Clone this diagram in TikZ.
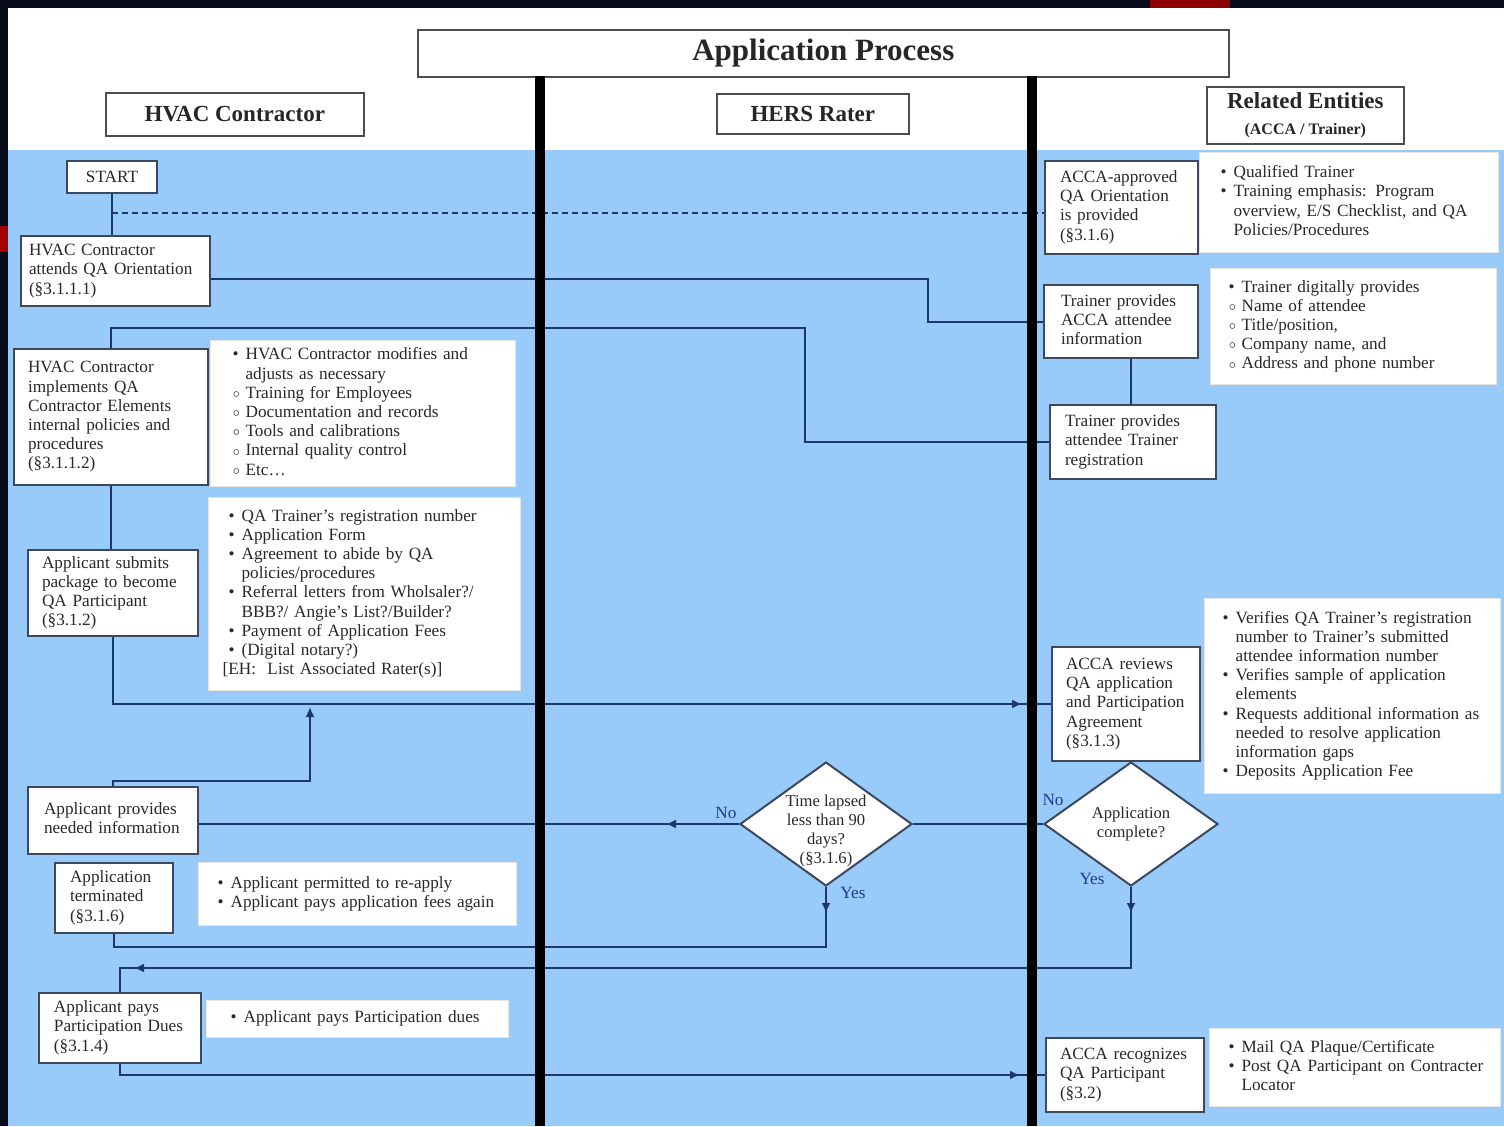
\documentclass[tikz,border=0pt]{standalone}
\usepackage{fontspec}
\setmainfont{Liberation Serif}
\usetikzlibrary{arrows.meta,decorations.markings,shapes.geometric,calc}
\definecolor{bgc}{RGB}{8,12,26}
\definecolor{lane}{RGB}{152,202,250}
\definecolor{lnc}{RGB}{28,56,104}
\definecolor{bdc}{RGB}{60,72,92}
\definecolor{txc}{RGB}{40,40,40}
\definecolor{lbc}{RGB}{30,60,140}
\newcommand\bodyf{\fontsize{8.6}{9.6}\selectfont}
\newcommand\dmdf{\fontsize{8.3}{9.5}\selectfont}
\newcommand\bu{\makebox[6.5pt][l]{\textbullet}}
\newcommand\ci{\makebox[6.5pt][l]{\raisebox{0.1ex}{$\scriptstyle\circ$}}}
\newcommand\ind{\hspace*{6.5pt}}
\newcommand\lns[1]{\begin{tabular}{@{}l@{}}#1\end{tabular}}
\tikzset{
  sz/.code n args={3}{%
    \pgfmathsetlengthmacro\szw{#1*0.5pt-2*(#3)}%
    \pgfmathsetlengthmacro\szh{#2*0.5pt}%
    \edef\sztmp{\noexpand\pgfkeysalso{/tikz/text width=\szw,/tikz/minimum height=\szh,/tikz/inner xsep=#3}}\sztmp},
  pbox/.style={draw=bdc, line width=1pt, fill=white, anchor=north west, align=left,
    inner ysep=0pt, text=txc, font=\bodyf},
  nbox/.style={pbox, draw=black!10, line width=0.6pt},
  hdr/.style={draw=black!70, line width=0.8pt, fill=white, anchor=north west, align=center,
    text=black!85, font=\bfseries\fontsize{11.5}{13}\selectfont},
  dmd/.style={diamond, draw=bdc, line width=1pt, fill=white, inner sep=0pt},
  dtxt/.style={align=center, text=txc, font=\dmdf, inner sep=0pt},
  lbl/.style={text=lbc, font=\bodyf, inner sep=0pt},
  conn/.style={color=lnc, line width=1pt},
  dashline/.style={color=lnc, line width=0.6pt, dash pattern=on 3pt off 2pt},
  amark/.style={postaction={decorate,decoration={markings,
    mark=at position #1 with {\arrow{Latex[length=5pt,width=4.5pt]}}}}},
  amarktwo/.style 2 args={postaction={decorate,decoration={markings,
    mark=at position #1 with {\arrow{Latex[length=5pt,width=4.5pt]}},
    mark=at position #2 with {\arrow{Latex[length=5pt,width=4.5pt]}}}}},
}
\begin{document}
\begin{tikzpicture}[x=0.5pt,y=-0.5pt]
\useasboundingbox (0,0) rectangle (1504,1126);
% background
\fill[bgc] (0,0) rectangle (1504,1126);
\fill[red!65!black] (0,226) rectangle (8,252);
\fill[red!55!black] (1150,0) rectangle (1230,8);
\fill[white] (8,8) rectangle (1504,1126);
\fill[lane] (8,150) rectangle (1504,1126);

% headers
\node[hdr, minimum width=405.5pt, minimum height=23.5pt,
  font=\bfseries\fontsize{15.5}{18}\selectfont] (title) at (417,29) {\raisebox{-1.5pt}{Application Process}};
\node[hdr, minimum width=129pt, minimum height=21.5pt] (hh) at (105,92) {HVAC Contractor};
\node[hdr, minimum width=96pt, minimum height=20pt] (hr) at (716,93) {HERS Rater};
\node[hdr, minimum width=98.5pt, minimum height=28.5pt, inner sep=1pt] (he) at (1206,86)
  {Related Entities\\[0pt]{\fontsize{8}{9}\selectfont (ACCA / Trainer)}};

% left lane
\node[pbox, minimum width=45pt, minimum height=16pt, align=center] (start) at (66,160) {START};
\node[pbox, sz={189}{70}{4pt}] (att) at (20,235)
  {\lns{HVAC Contractor\\attends QA Orientation\\(§3.1.1.1)}};
\node[pbox, sz={194}{136}{7pt}] (imp) at (13,348)
  {\lns{HVAC Contractor\\implements QA\\Contractor Elements\\internal policies and\\procedures\\(§3.1.1.2)}};
\node[nbox, sz={305}{146}{11pt}] (b1) at (210,340)
  {\lns{\bu HVAC Contractor modifies and\\ \ind adjusts as necessary\\ \ci Training for Employees\\
   \ci Documentation and records\\ \ci Tools and calibrations\\ \ci Internal quality control\\ \ci Etc…}};
\node[nbox, sz={312}{193}{7pt}] (b2) at (208,497)
  {\lns{\hspace*{3pt}\bu QA Trainer’s registration number\\
   \hspace*{3pt}\bu Application Form\\
   \hspace*{3pt}\bu Agreement to abide by QA\\
   \hspace*{9.5pt}policies/procedures\\
   \hspace*{3pt}\bu Referral letters from Wholsaler?/\\
   \hspace*{9.5pt}BBB?/ Angie’s List?/Builder?\\
   \hspace*{3pt}\bu Payment of Application Fees\\
   \hspace*{3pt}\bu (Digital notary?)\\
   \relax[EH:\ \ List Associated Rater(s)]}};
\node[pbox, sz={170}{86}{7pt}] (sub) at (27,549)
  {\lns{Applicant submits\\package to become\\QA Participant\\(§3.1.2)}};
\node[pbox, sz={170}{67}{8pt}] (prov) at (27,786)
  {\lns{Applicant provides\\needed information}};
\node[pbox, sz={118}{70}{7.5pt}] (term) at (54,862)
  {\lns{Application\\terminated\\(§3.1.6)}};
\node[nbox, sz={318}{63}{9.5pt}] (b3) at (198,862)
  {\lns{\bu Applicant permitted to re-apply\\ \bu Applicant pays application fees again}};
\node[pbox, sz={162}{70}{7.5pt}] (pays) at (38,992)
  {\lns{Applicant pays\\Participation Dues\\(§3.1.4)}};
\node[nbox, sz={302}{37}{12pt}] (b4) at (206,1000)
  {\lns{\bu Applicant pays Participation dues}};

% right lane
\node[pbox, sz={153}{93}{7.5pt}] (acca) at (1044,160)
  {\lns{ACCA-approved\\QA Orientation\\is provided\\(§3.1.6)}};
\node[nbox, sz={299}{100}{10.5pt}] (r1) at (1199,152)
  {\lns{\bu Qualified Trainer\\ \bu Training emphasis: Program\\ \ind overview, E/S Checklist, and QA\\ \ind Policies/Procedures}};
\node[pbox, sz={154}{73}{8.5pt}] (tpa) at (1043,284)
  {\lns{Trainer provides\\ACCA attendee\\information}};
\node[nbox, sz={286}{116}{9pt}] (r2) at (1210,268)
  {\lns{\bu Trainer digitally provides\\ \ci Name of attendee\\ \ci Title/position,\\ \ci Company name, and\\ \ci Address and phone number}};
\node[pbox, sz={166}{74}{7.5pt}] (trr) at (1049,404)
  {\lns{Trainer provides\\attendee Trainer\\registration}};
\node[pbox, sz={148}{114}{7pt}] (rev) at (1051,646)
  {\lns{ACCA reviews\\QA application\\and Participation\\Agreement\\(§3.1.3)}};
\node[nbox, sz={296}{195}{9pt}] (r3) at (1204,598)
  {\lns{\bu Verifies QA Trainer’s registration\\ \ind number to Trainer’s submitted\\ \ind attendee information number\\
   \bu Verifies sample of application\\ \ind elements\\ \bu Requests additional information as\\
   \ind needed to resolve application\\ \ind information gaps\\ \bu Deposits Application Fee}};
\node[pbox, sz={158}{74}{7pt}] (rec) at (1045,1037)
  {\lns{ACCA recognizes\\QA Participant\\(§3.2)}};
\node[nbox, sz={291}{78}{9.5pt}] (r4) at (1209,1028)
  {\lns{\bu Mail QA Plaque/Certificate\\ \bu Post QA Participant on Contracter\\ \ind Locator}};

% decisions
\node[dmd, minimum width=86pt, minimum height=62pt] (tl) at (826,824) {};
\node[dtxt] (tlt) at ([yshift=-3.5pt]tl.center) {Time lapsed\\less than 90\\days?\\(§3.1.6)};
\node[dmd, minimum width=87pt, minimum height=62pt] (ac) at (1131,824) {};
\node[dtxt] (act) at (ac.center) {Application\\complete?};

\node[lbl] (no1) at (726,813) {No};
\node[lbl] (yes1) at (853,893) {Yes};
\node[lbl] (no2) at (1053,800) {No};
\node[lbl] (yes2) at (1092,879) {Yes};

% connectors
\draw[conn] (start.south) -- (start.south |- att.north);
\coordinate (dsh) at ($(start.south)+(0,19)$);
\draw[dashline] (dsh) -- (dsh -| acca.west);
\coordinate (k1) at (928,0);
\draw[conn] ([yshift=-4pt]att.east) -- ([yshift=-4pt]att.east -| k1) |- (tpa.west);
\coordinate (k2) at (805,328);
\draw[conn] (imp.north) |- (k2) |- (trr.west);
\draw[conn] ([xshift=5pt]tpa.south) -- ([xshift=5pt]tpa.south |- trr.north);
\draw[conn] (imp.south) -- (imp.south |- sub.north);
\draw[conn, amark=-14.5pt] (sub.south) |- (rev.west);
\coordinate (k3) at (310,781);
\coordinate (k4) at (310,707);
\draw[conn, -{Latex[length=5pt,width=4.5pt]}] (prov.north) |- (k3) -- (k4);
\draw[conn, amark=36.5pt] (tl.west) -- (tl.west -| prov.east);
\draw[conn] (tl.east) -- (ac.west);
\coordinate (k5) at (0,947);
\draw[conn, amark=13pt] (tl.south) -- (tl.south |- k5) -| (term.south);
\coordinate (k6) at (0,968);
\draw[conn, amarktwo={13pt}{-19pt}] (ac.south) -- (ac.south |- k6) -| (pays.north);
\draw[conn, amark=-12.5pt] (pays.south) |- (rec.west);

% lane separators
\draw[line width=5pt, black] (540,76) -- (540,1126);
\draw[line width=5pt, black] (1032,76) -- (1032,1126);
\end{tikzpicture}
\end{document}
